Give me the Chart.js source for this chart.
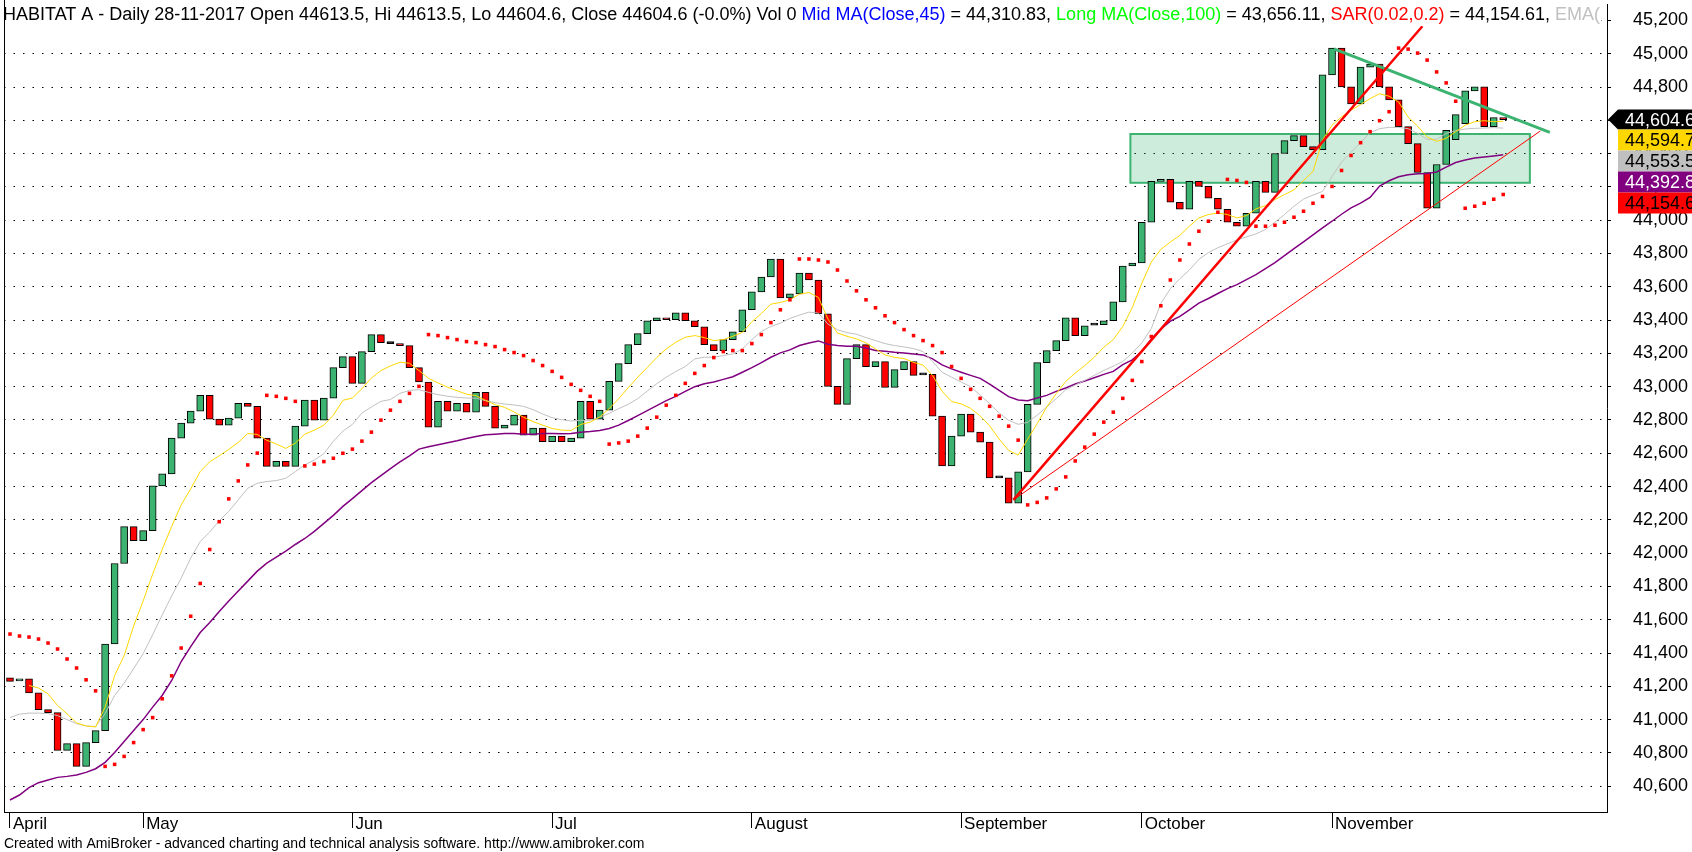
<!DOCTYPE html>
<html>
<head>
<meta charset="utf-8">
<script src="https://cdn.jsdelivr.net/npm/chart.js@4.4.0/dist/chart.umd.min.js"></script>
<style>
  html, body { margin: 0; padding: 0; background: #fff; }
</style>
</head>
<body>
<canvas id="chart" width="1692" height="852"></canvas>
<script>
// Daily candles, HABITAT A, Apr-Nov 2017 (index = trading day)
const opens = [41251,41233,41245,41161,41060,41042,40815,40856,40719,40862,
  40934,41454,41938,42159,42075,42135,42404,42476,42691,42781,
  42853,42948,42805,42769,42811,42900,42882,42691,42521,42551,
  42521,42763,42920,42799,42931,43115,43181,43020,43211,43313,
  43259,43259,43247,43115,43028,42757,42912,42853,42900,42847,
  42966,42882,42751,42769,42829,42709,42751,42669,42703,42669,
  42691,42912,42805,42859,43032,43139,43253,43319,43396,43414,
  43402,43444,43396,43360,43253,43217,43283,43330,43462,43570,
  43659,43767,43534,43558,43683,43641,43438,43002,42894,43169,
  43253,43121,43151,42996,43103,43151,43071,43074,42823,42524,
  42703,42835,42727,42667,42452,42452,42300,42488,42894,43145,
  43217,43277,43414,43307,43370,43372,43396,43510,43725,43743,
  43988,44233,44245,44108,44066,44233,44203,44132,44066,43988,
  43964,44042,44233,44167,44401,44478,44508,44442,44424,44873,
  45034,44801,44699,44920,44938,44801,44723,44562,44460,44287,
  44072,44335,44484,44580,44777,44801,44562,44613.5];
const closes = [41230,41245,41161,41060,41042,40815,40856,40719,40862,40934,
  41454,41938,42159,42075,42135,42404,42476,42691,42781,42853,
  42948,42805,42769,42811,42900,42882,42691,42521,42551,42521,
  42763,42920,42799,42931,43115,43181,43020,43211,43313,43265,
  43259,43247,43115,43028,42757,42912,42853,42900,42847,42966,
  42882,42751,42769,42829,42709,42751,42669,42703,42669,42691,
  42912,42805,42859,43032,43139,43253,43319,43396,43414,43402,
  43444,43396,43360,43253,43217,43283,43330,43462,43570,43659,
  43767,43534,43558,43683,43641,43438,43002,42894,43169,43253,
  43121,43151,42996,43103,43151,43068,43071,42823,42524,42703,
  42835,42727,42667,42452,42452,42300,42488,42894,43145,43217,
  43277,43414,43307,43366,43370,43396,43510,43725,43743,43988,
  44233,44245,44108,44066,44233,44203,44132,44066,43988,43964,
  44042,44233,44167,44401,44478,44508,44442,44424,44873,45034,
  44801,44699,44920,44938,44801,44723,44562,44460,44287,44072,
  44335,44540,44634,44777,44801,44562,44616,44604.6];

// overlays
const shortMA = [null,null,41205,41190,41155,41085,41035,40980,40962,40956,
  41075,41265,41384,41563,41713,41874,42022,42161,42290,42386,
  42490,42549,42585,42623,42665,42719,42713,42678,42656,42629,
  42661,42715,42739,42769,42829,42918,42932,42988,43052,43097,
  43125,43147,43141,43097,43050,43023,42997,42976,42955,42946,
  42918,42892,42876,42848,42816,42790,42769,42749,42739,42737,
  42773,42787,42818,42868,42928,42994,43057,43115,43175,43227,
  43267,43297,43307,43295,43277,43283,43303,43326,43390,43440,
  43496,43506,43522,43556,43566,43536,43406,43322,43303,43287,
  43263,43227,43191,43176,43169,43146,43130,43067,42973,42911,
  42897,42870,42825,42765,42685,42617,42589,42685,42778,42878,
  42958,43032,43082,43127,43177,43237,43283,43362,43476,43621,
  43749,43825,43869,43909,43964,44014,44034,44044,44034,44014,
  44028,44068,44088,44124,44154,44183,44239,44293,44482,44571,
  44621,44661,44695,44731,44760,44745,44710,44620,44565,44500,
  44474,44492,44532,44571,44592,44598,44592,44594.7];
const emaLine = [41012,41033,41039,41039,41036,41024,41000,40976,40962,40958,
  41036,41145,41219,41306,41396,41510,41629,41743,41850,41970,
  42070,42127,42195,42251,42320,42390,42420,42430,42436,42450,
  42490,42530,42560,42597,42673,42733,42773,42842,42878,42912,
  42923,42960,42978,42982,42966,42952,42943,42936,42932,42931,
  42916,42904,42896,42890,42882,42862,42836,42814,42802,42794,
  42798,42798,42816,42840,42868,42894,42928,42974,43018,43057,
  43091,43121,43167,43177,43177,43187,43197,43227,43283,43332,
  43362,43382,43410,43430,43448,43442,43376,43342,43325,43315,
  43295,43277,43259,43247,43239,43229,43211,43151,43087,43057,
  43028,43000,42950,42898,42842,42798,42774,42786,42829,42878,
  42928,42982,43010,43038,43068,43098,43123,43151,43203,43263,
  43350,43500,43589,43649,43701,43765,43805,43835,43858,43882,
  43900,43918,43944,43988,44034,44084,44127,44151,44173,44263,
  44349,44408,44466,44526,44550,44558,44558,44550,44522,44486,
  44486,44522,44538,44548,44552,44554,44556,44553.5];
const slowMA = [40517,40547,40591,40621,40637,40653,40659,40667,40683,40705,
  40743,40802,40868,40934,41000,41075,41145,41235,41349,41439,
  41523,41584,41650,41713,41773,41832,41892,41940,41976,42012,
  42052,42088,42131,42179,42227,42281,42328,42376,42424,42466,
  42508,42549,42585,42625,42639,42651,42663,42675,42689,42701,
  42711,42715,42719,42719,42715,42715,42719,42719,42717,42719,
  42727,42731,42737,42749,42769,42797,42826,42856,42886,42916,
  42942,42972,43000,43018,43028,43044,43060,43087,43115,43145,
  43177,43203,43221,43247,43263,43275,43255,43247,43243,43243,
  43233,43217,43213,43207,43203,43197,43191,43167,43131,43107,
  43087,43068,43050,43016,42978,42940,42920,42916,42932,42948,
  42972,42992,43016,43034,43054,43074,43092,43133,43161,43211,
  43287,43346,43394,43422,43462,43502,43530,43560,43589,43613,
  43643,43673,43709,43745,43787,43829,43870,43912,43954,43994,
  44036,44074,44103,44137,44205,44237,44261,44273,44279,44281,
  44290,44319,44347,44362,44374,44380,44386,44392.8];
const sar = [41514,41502,41496,41484,41460,41424,41364,41310,41239,41173,
  40719,40731,40779,40862,40940,41012,41125,41263,41430,41621,
  41818,42022,42189,42326,42434,42530,42601,42948,42942,42930,
  42912,42524,42535,42550,42570,42600,42625,42673,42727,42799,
  42859,42912,42960,43002,43313,43307,43295,43283,43271,43265,
  43253,43241,43223,43205,43187,43157,43127,43092,43056,43014,
  42978,42942,42912,42655,42662,42673,42703,42751,42817,42889,
  42948,43020,43080,43127,43175,43211,43217,43217,43259,43313,
  43385,43462,43522,43767,43767,43761,43749,43701,43635,43576,
  43522,43474,43426,43385,43343,43307,43277,43247,43205,43121,
  43050,42984,42930,42882,42823,42763,42679,42290,42305,42332,
  42386,42458,42554,42637,42715,42787,42847,42930,43038,43151,
  43301,43486,43641,43761,43857,43934,43994,44048,44245,44239,
  44227,43964,43964,43970,43988,44018,44054,44102,44143,44203,
  44299,44389,44466,44532,44598,44652,45034,45028,45004,44962,
  44891,44825,44715,44072,44084,44102,44126,44154.6];

// drawn studies (bar index, price)
const steepTrend = [[105.5, 42320], [148.5, 45165]];
const lowTrend = [[105.5, 42320], [160.9, 44536]];
const topTrend = [[139.2, 45030], [161.9, 44528]];
const zoneBars = [117.8, 159.8];
const zonePrices = [44225, 44518];

const monthStarts = [0, 14, 36, 57, 78, 100, 119, 139];
const monthNames = ['April', 'May', 'Jun', 'Jul', 'August', 'September', 'October', 'November'];
const priceTicks = [40600,40800,41000,41200,41400,41600,41800,42000,42200,42400,42600,
  42800,43000,43200,43400,43600,43800,44000,44200,44400,44600,44800,45000,45200];

const tagValues = [44604.6, 44594.7, 44553.5, 44392.8, 44154.6];
const tagFill = ['#000000', '#ffd700', '#c0c0c0', '#800080', '#ff0000'];
const tagInk = ['#ffffff', '#000000', '#000000', '#ffffff', '#000000'];

const FONT = '"Liberation Sans", Arial, sans-serif';
const GREEN = '#3cb371';

const pts = arr => arr.map((v, i) => ({ x: i, y: v }));
const seg = arr => arr.map(p => ({ x: p[0], y: p[1] }));

const candles = opens.map((o, i) => ({ x: i, y: [o, closes[i]] }));
const candleColors = opens.map((o, i) =>
  closes[i] > o ? GREEN : (closes[i] < o ? '#ff0000' : '#000000'));

const titleParts = [
  ['HABITAT A - Daily 28-11-2017 Open 44613.5, Hi 44613.5, Lo 44604.6, Close 44604.6 (-0.0%) Vol 0 ', '#000000'],
  ['Mid MA(Close,45)', '#0000ff'],
  [' = 44,310.83, ', '#000000'],
  ['Long MA(Close,100)', '#00ff00'],
  [' = 43,656.11, ', '#000000'],
  ['SAR(0.02,0.2)', '#ff0000'],
  [' = 44,154.61, ', '#000000'],
  ['EMA(', '#c0c0c0']
];

// no extra room round the axes
function noPad(s) {
  s.paddingTop = 0; s.paddingBottom = 0; s.paddingLeft = 0; s.paddingRight = 0;
}

// shaded zone behind the candles
const zonePlugin = {
  id: 'zone',
  beforeDatasetsDraw(chart) {
    const { ctx, scales: { x, y } } = chart;
    const x0 = x.getPixelForValue(zoneBars[0]), x1 = x.getPixelForValue(zoneBars[1]);
    const y0 = y.getPixelForValue(zonePrices[1]), y1 = y.getPixelForValue(zonePrices[0]);
    ctx.save();
    ctx.fillStyle = 'rgba(60,179,113,0.25)';
    ctx.fillRect(x0, y0, x1 - x0, y1 - y0);
    ctx.strokeStyle = GREEN;
    ctx.lineWidth = 2;
    ctx.strokeRect(x0, y0, x1 - x0, y1 - y0);
    ctx.restore();
  }
};

// frame, header line, footer and price tags
const decorPlugin = {
  id: 'decor',
  afterDraw(chart) {
    const { ctx, chartArea: a, scales: { y } } = chart;
    ctx.save();

    // header line over a white strip
    ctx.save();
    ctx.beginPath();
    ctx.rect(0, 0, a.right - 4, 32);
    ctx.clip();
    ctx.font = '18px ' + FONT;
    ctx.textBaseline = 'middle';
    const full = titleParts.map(p => p[0]).join('');
    ctx.fillStyle = '#fff';
    ctx.fillRect(2, 5, ctx.measureText(full).width + 2, 21);
    let tx = 3;
    titleParts.forEach(([t, c]) => {
      ctx.fillStyle = c;
      ctx.fillText(t, tx, 15);
      tx += ctx.measureText(t).width;
    });
    ctx.restore();

    ctx.strokeStyle = '#000';
    ctx.lineWidth = 1;
    ctx.beginPath();
    ctx.moveTo(a.left + 0.5, 0);
    ctx.lineTo(a.left + 0.5, a.bottom);
    ctx.stroke();

    ctx.font = '14px ' + FONT;
    ctx.fillStyle = '#000';
    ctx.textBaseline = 'middle';
    ctx.fillText('Created with AmiBroker - advanced charting and technical analysis software. http://www.amibroker.com', 4, 844);

    const yc = y.getPixelForValue(tagValues[0]);
    ctx.font = '18px ' + FONT;
    tagValues.forEach((v, i) => {
      const top = i === 0 ? yc - 10 : yc + 10 + 21 * (i - 1);
      const h = i === 0 ? 20 : 21;
      ctx.fillStyle = tagFill[i];
      ctx.beginPath();
      if (i === 0) {
        ctx.moveTo(a.right + 1, yc);
        ctx.lineTo(a.right + 11, top);
        ctx.lineTo(1692, top);
        ctx.lineTo(1692, top + h);
        ctx.lineTo(a.right + 11, top + h);
        ctx.closePath();
      } else {
        ctx.rect(a.right + 11, top, 1692 - a.right - 11, h);
      }
      ctx.fill();
      ctx.fillStyle = tagInk[i];
      ctx.fillText(v.toLocaleString('en-US', { minimumFractionDigits: 1, maximumFractionDigits: 1 }), a.right + 18, top + h / 2 + 1);
    });
    ctx.restore();
  }
};

new Chart(document.getElementById('chart'), {
  type: 'bar',
  data: {
    datasets: [
      { type: 'line', data: pts(sar), showLine: false, pointStyle: 'rect', pointRadius: 2.5,
        pointBackgroundColor: '#ff0000', pointBorderWidth: 0, order: 1 },
      { type: 'line', data: seg(steepTrend), borderColor: '#ff0000', borderWidth: 2.5, pointRadius: 0, order: 2 },
      { type: 'line', data: seg(lowTrend), borderColor: '#ff0000', borderWidth: 1, pointRadius: 0, order: 2 },
      { type: 'line', data: seg(topTrend), borderColor: GREEN, borderWidth: 3, pointRadius: 0, order: 2 },
      { type: 'line', data: pts(shortMA), borderColor: '#ffd700', borderWidth: 1, pointRadius: 0, order: 3 },
      { type: 'line', data: pts(emaLine), borderColor: '#c0c0c0', borderWidth: 1, pointRadius: 0, order: 4 },
      { type: 'line', data: pts(slowMA), borderColor: '#800080', borderWidth: 1.5, pointRadius: 0, order: 5 },
      { type: 'bar', data: candles, backgroundColor: candleColors, borderColor: '#000000',
        borderWidth: 1, borderSkipped: false, barThickness: 7, minBarLength: 2, order: 10 }
    ]
  },
  options: {
    responsive: false,
    animation: false,
    devicePixelRatio: 1,
    layout: { padding: 0 },
    plugins: { legend: { display: false }, tooltip: { enabled: false } },
    scales: {
      x: {
        type: 'linear', position: 'bottom', min: -0.63, max: 167.91, offset: false,
        afterFit: s => { s.height = 40; noPad(s); },
        afterBuildTicks: s => { s.ticks = monthStarts.map(v => ({ value: v })); },
        ticks: { callback: (v, i) => monthNames[i], align: 'start', labelOffset: 3, padding: -14,
          color: '#000', font: { family: FONT, size: 17 }, maxRotation: 0, autoSkip: false },
        grid: { offset: false, drawOnChartArea: false, drawTicks: true, tickLength: 16, color: '#000' },
        border: { display: true, color: '#000' }
      },
      y: {
        type: 'linear', position: 'right', min: 40445, max: 45299,
        afterFit: s => { s.width = 85; noPad(s); },
        afterBuildTicks: s => { s.ticks = priceTicks.map(v => ({ value: v })); },
        ticks: { callback: v => v.toLocaleString('en-US'), padding: 22, color: '#000',
          font: { family: FONT, size: 18 } },
        grid: { color: '#000', lineWidth: 1, tickLength: 4, drawTicks: true },
        border: { display: true, color: '#000', width: 1, dash: [1.5, 8] }
      }
    }
  },
  plugins: [zonePlugin, decorPlugin]
});
</script>
</body>
</html>
